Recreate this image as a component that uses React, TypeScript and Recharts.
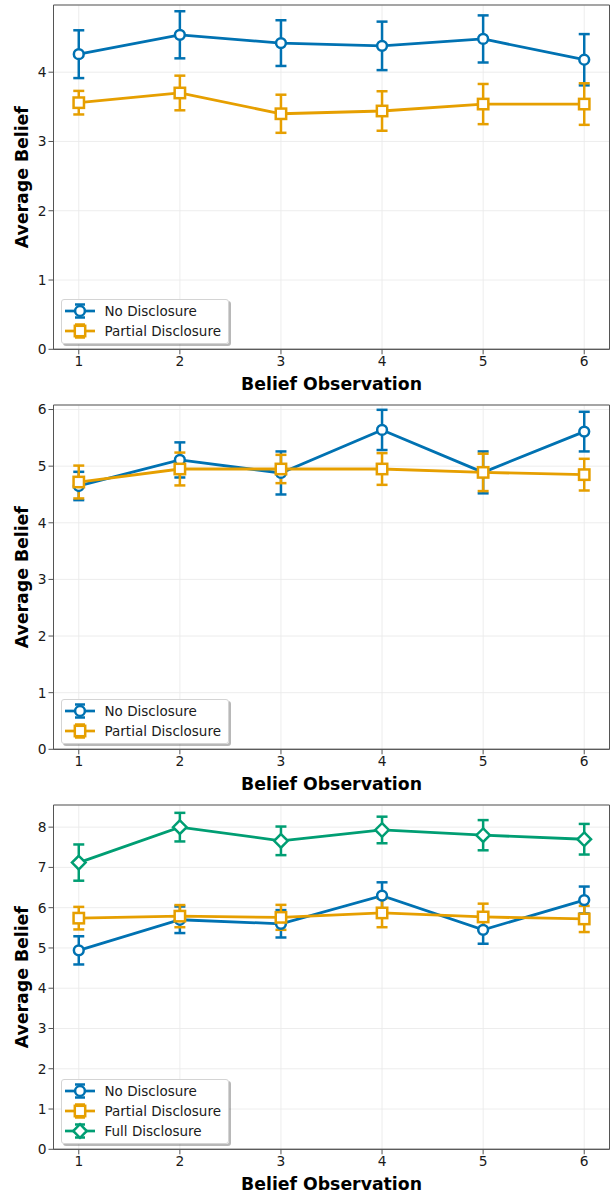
import React from 'react';
import { LineChart, Line, XAxis, YAxis, CartesianGrid, ErrorBar, Legend, ReferenceArea } from 'recharts';

// ---------- data ----------
const observations = [1, 2, 3, 4, 5, 6];

// Panel 1
const p1NoMean = [4.26, 4.54, 4.42, 4.38, 4.48, 4.18];
const p1NoErr = [0.345, 0.34, 0.33, 0.35, 0.34, 0.37];
const p1PartialMean = [3.56, 3.7, 3.4, 3.44, 3.54, 3.54];
const p1PartialErr = [0.17, 0.25, 0.275, 0.285, 0.29, 0.3];
const p1YTicks = [0, 1, 2, 3, 4];

// Panel 2
const p2NoMean = [4.65, 5.11, 4.88, 5.64, 4.89, 5.61];
const p2NoErr = [0.25, 0.31, 0.38, 0.355, 0.37, 0.35];
const p2PartialMean = [4.72, 4.95, 4.95, 4.95, 4.89, 4.85];
const p2PartialErr = [0.29, 0.29, 0.25, 0.28, 0.33, 0.28];
const p2YTicks = [0, 1, 2, 3, 4, 5, 6];

// Panel 3
const p3NoMean = [4.94, 5.7, 5.6, 6.3, 5.45, 6.19];
const p3NoErr = [0.35, 0.33, 0.34, 0.33, 0.345, 0.335];
const p3PartialMean = [5.74, 5.79, 5.76, 5.87, 5.77, 5.72];
const p3PartialErr = [0.28, 0.275, 0.31, 0.355, 0.33, 0.325];
const p3FullMean = [7.12, 8.0, 7.66, 7.93, 7.8, 7.7];
const p3FullErr = [0.45, 0.355, 0.355, 0.33, 0.375, 0.38];
const p3YTicks = [0, 1, 2, 3, 4, 5, 6, 7, 8];

const xLabel = 'Belief Observation';
const yLabel = 'Average Belief';

// ---------- styling ----------
const FONT = '"DejaVu Sans", Verdana, sans-serif';
const BLUE = '#0072B2';
const ORANGE = '#E69F00';
const GREEN = '#009E73';
const SPINE = '#555555';
const GRID = '#ebebeb';
const TEXT = '#1a1a1a';

type Shape = 'circle' | 'square' | 'diamond';
interface SeriesDef { key: string; errKey: string; name: string; color: string; shape: Shape; }

const NO: SeriesDef = { key: 'no', errKey: 'noErr', name: 'No Disclosure', color: BLUE, shape: 'circle' };
const PARTIAL: SeriesDef = { key: 'partial', errKey: 'partialErr', name: 'Partial Disclosure', color: ORANGE, shape: 'square' };
const FULL: SeriesDef = { key: 'full', errKey: 'fullErr', name: 'Full Disclosure', color: GREEN, shape: 'diamond' };

function marker(shape: Shape, color: string, cx: number, cy: number, key?: any) {
  const sw = 2.5;
  if (shape === 'circle') {
    return <circle key={key} cx={cx} cy={cy} r={4.9} fill="#fff" stroke={color} strokeWidth={sw} />;
  }
  if (shape === 'square') {
    return <rect key={key} x={cx - 5.2} y={cy - 5.2} width={10.4} height={10.4} fill="#fff" stroke={color} strokeWidth={sw} />;
  }
  const d = 6.8;
  return (
    <polygon key={key} points={`${cx},${cy - d} ${cx + d},${cy} ${cx},${cy + d} ${cx - d},${cy}`}
      fill="#fff" stroke={color} strokeWidth={sw} strokeLinejoin="miter" />
  );
}

const makeDot = (s: SeriesDef) => (props: any) => {
  const { cx, cy, index } = props;
  if (cx == null || cy == null) return <g key={index} />;
  return marker(s.shape, s.color, cx, cy, `${s.key}-${index}`);
};

function LegendBox({ series }: { series: SeriesDef[] }) {
  return (
    <div style={{
      border: '1px solid #d4d4d4', borderRadius: 3, background: 'rgba(255,255,255,0.9)',
      boxShadow: '2px 2px 0 rgba(0,0,0,0.28)', paddingTop: 1, paddingBottom: 2, width: 166,
      fontFamily: FONT, fontSize: 13.5, color: TEXT, boxSizing: 'content-box',
    }}>
      {series.map((s) => (
        <div key={s.key} style={{ display: 'flex', alignItems: 'center', height: 20 }}>
          <svg width={43} height={20} style={{ display: 'block', flex: 'none' }}>
            <line x1={3} y1={10} x2={33} y2={10} stroke={s.color} strokeWidth={2.7} />
            <line x1={18} y1={3.5} x2={18} y2={16.5} stroke={s.color} strokeWidth={2.5} />
            <line x1={13} y1={3.5} x2={23} y2={3.5} stroke={s.color} strokeWidth={2.5} />
            <line x1={13} y1={16.5} x2={23} y2={16.5} stroke={s.color} strokeWidth={2.5} />
            {marker(s.shape, s.color, 18, 10)}
          </svg>
          <span style={{ whiteSpace: 'nowrap', lineHeight: '20px' }}>{s.name}</span>
        </div>
      ))}
    </div>
  );
}

const PLOT_TOP = 5;
const PLOT_BOTTOM = 349.3;
const PLOT_LEFT = 53.5;
const PLOT_RIGHT = 609.5;
const CHART_W = 613;
const CHART_H = 400;

function Panel({ data, series, yMax, yTicks }: { data: any[]; series: SeriesDef[]; yMax: number; yTicks: number[] }) {
  const legendTop = 341.5 - (3 + 20 * series.length);
  const plotCenterY = (PLOT_TOP + PLOT_BOTTOM) / 2;
  return (
    <LineChart
      width={CHART_W}
      height={CHART_H}
      data={data}
      margin={{ top: PLOT_TOP, right: CHART_W - PLOT_RIGHT, bottom: 0, left: 0 }}
    >
      <CartesianGrid stroke={GRID} strokeWidth={0.9} />
      <ReferenceArea x1={0.75} x2={6.25} y1={0} y2={yMax} fill="none" stroke={SPINE} strokeWidth={1} ifOverflow="visible" />
      <XAxis
        dataKey="obs"
        type="number"
        domain={[0.75, 6.25]}
        ticks={observations}
        allowDataOverflow
        height={CHART_H - PLOT_BOTTOM}
        tickSize={5}
        tickMargin={2}
        stroke={SPINE}
        tick={{ fill: TEXT, fontSize: 13.8, fontFamily: FONT }}
        label={{
          content: () => (
            <text x={(PLOT_LEFT + PLOT_RIGHT) / 2} y={383.5} textAnchor="middle" dominantBaseline="central"
              fontFamily={FONT} fontSize={17.3} fontWeight="bold" fill="#000">{xLabel}</text>
          ),
        }}
      />
      <YAxis
        type="number"
        domain={[0, yMax]}
        ticks={yTicks}
        allowDataOverflow
        width={PLOT_LEFT}
        tickSize={5}
        tickMargin={2}
        stroke={SPINE}
        tick={{ fill: TEXT, fontSize: 13.8, fontFamily: FONT }}
        label={{
          content: () => (
            <text x={22} y={plotCenterY} transform={`rotate(-90, 22, ${plotCenterY})`} textAnchor="middle"
              dominantBaseline="central" fontFamily={FONT} fontSize={17.3} fontWeight="bold" fill="#000">{yLabel}</text>
          ),
        }}
      />
      {series.map((s) => (
        <Line
          key={s.key}
          type="linear"
          dataKey={s.key}
          name={s.name}
          stroke={s.color}
          strokeWidth={2.8}
          dot={makeDot(s)}
          activeDot={false}
          isAnimationActive={false}
        >
          <ErrorBar dataKey={s.errKey} direction="y" width={5.5} strokeWidth={2.5} stroke={s.color} isAnimationActive={false} />
        </Line>
      ))}
      <Legend
        layout="vertical"
        align="center"
        verticalAlign="middle"
        wrapperStyle={{ left: 60.5, top: legendTop, width: 'auto', height: 'auto' }}
        content={() => <LegendBox series={series} />}
      />
    </LineChart>
  );
}

const panel1Data = observations.map((obs, i) => ({
  obs, no: p1NoMean[i], noErr: p1NoErr[i], partial: p1PartialMean[i], partialErr: p1PartialErr[i],
}));
const panel2Data = observations.map((obs, i) => ({
  obs, no: p2NoMean[i], noErr: p2NoErr[i], partial: p2PartialMean[i], partialErr: p2PartialErr[i],
}));
const panel3Data = observations.map((obs, i) => ({
  obs, no: p3NoMean[i], noErr: p3NoErr[i], partial: p3PartialMean[i], partialErr: p3PartialErr[i],
  full: p3FullMean[i], fullErr: p3FullErr[i],
}));

export default function App() {
  return (
    <div style={{ position: 'absolute', left: 0, top: 0, width: 613, height: 1197, overflow: 'hidden', background: '#fff' }}>
      <Panel data={panel1Data} series={[NO, PARTIAL]} yMax={4.97} yTicks={p1YTicks} />
      <Panel data={panel2Data} series={[NO, PARTIAL]} yMax={6.08} yTicks={p2YTicks} />
      <Panel data={panel3Data} series={[NO, PARTIAL, FULL]} yMax={8.55} yTicks={p3YTicks} />
    </div>
  );
}
